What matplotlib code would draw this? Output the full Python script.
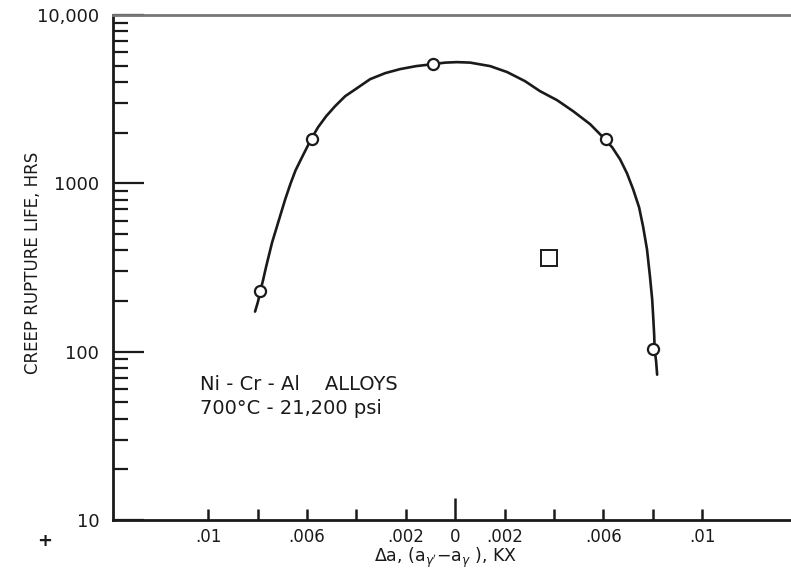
import matplotlib
matplotlib.use("Agg")
import matplotlib.pyplot as plt
from matplotlib.ticker import FixedLocator, LogLocator, NullFormatter, FixedFormatter

# Measured data points (circles)
delta_a = [-0.0079, -0.0058, -0.0009, 0.0061, 0.0080]
life_hrs = [228, 1830, 5100, 1830, 104]

# Square point
sq_delta_a = [0.0038]
sq_life_hrs = [358]

# Hand-drawn trend curve
curve_x = [-0.00810, -0.00798, -0.00789, -0.00777, -0.00765, -0.00753, -0.00741,
           -0.00725, -0.00709, -0.00688, -0.00666, -0.00646, -0.00625, -0.00604,
           -0.00583, -0.00555, -0.00522, -0.00486, -0.00445, -0.00397, -0.00344,
           -0.00283, -0.00223, -0.00158, -0.00089, -0.00040, 0.00008, 0.00061,
           0.00142, 0.00211, 0.00283, 0.00344, 0.00413, 0.00478, 0.00547,
           0.00599, 0.00636, 0.00668, 0.00696, 0.00721, 0.00745, 0.00761,
           0.00777, 0.00789, 0.00798, 0.00802, 0.00806, 0.00808, 0.00814, 0.00818]
curve_y = [173, 198.5, 227.6, 268.3, 320.6, 378, 445.6,
           532, 636, 803, 1000, 1195, 1380, 1590,
           1828, 2154, 2505, 2873, 3295, 3678, 4159,
           4516, 4771, 4971, 5109, 5215, 5250, 5215,
           4971, 4580, 4047, 3528, 3119, 2683, 2245,
           1878, 1637, 1389, 1147, 921, 720, 555,
           405, 279.5, 204, 161.6, 126.2, 102.8, 87.2, 73]

x_tick_vals = [-0.01, -0.006, -0.002, 0.0, 0.002, 0.006, 0.01]
x_tick_labels = [".01", ".006", ".002", "0", ".002", ".006", ".01"]
x_minor_vals = [-0.008, -0.004, 0.004, 0.008]
y_tick_vals = [10, 100, 1000, 10000]
y_tick_labels = ["10", "100", "1000", "10,000"]

plt.rcParams['font.family'] = ['DejaVu Sans']
ink = "#1a1a1a"

fig = plt.figure(figsize=(7.91, 5.69), dpi=100)
ax = fig.add_axes([0.1429, 0.0861, 0.8571, 0.8875])

ax.set_yscale("log")
ax.set_xlim(-0.01385, 0.0136)
ax.set_ylim(10, 10000)

ax.plot(curve_x, curve_y, color=ink, lw=1.9, solid_capstyle="round",
        solid_joinstyle="round", zorder=2)
ax.plot(delta_a, life_hrs, linestyle="none", marker="o", markersize=8,
        markerfacecolor="white", markeredgecolor=ink, markeredgewidth=1.6, zorder=3)
ax.plot(sq_delta_a, sq_life_hrs, linestyle="none", marker="s", markersize=11,
        markerfacecolor="white", markeredgecolor=ink, markeredgewidth=1.4, zorder=3)

# spines
ax.spines["right"].set_visible(False)
for s in ["left", "bottom"]:
    ax.spines[s].set_color(ink)
    ax.spines[s].set_linewidth(2.0)
ax.spines["top"].set_color("#777777")
ax.spines["top"].set_linewidth(2.0)

# x ticks
ax.xaxis.set_major_locator(FixedLocator(x_tick_vals))
ax.xaxis.set_major_formatter(FixedFormatter(x_tick_labels))
ax.xaxis.set_minor_locator(FixedLocator(x_minor_vals))
ax.tick_params(axis="x", which="both", direction="in", length=8, width=1.8,
               color=ink, labelsize=12, pad=6, labelcolor=ink)
ax.xaxis.get_major_ticks()[3].tick1line.set_markersize(16)

# y ticks
ax.yaxis.set_major_locator(FixedLocator(y_tick_vals))
ax.yaxis.set_major_formatter(FixedFormatter(y_tick_labels))
ax.yaxis.set_minor_locator(LogLocator(base=10, subs=range(2, 10)))
ax.yaxis.set_minor_formatter(NullFormatter())
ax.tick_params(axis="y", which="major", direction="in", length=22, width=1.6,
               color=ink, labelsize=13, pad=10, labelcolor=ink)
ax.tick_params(axis="y", which="minor", direction="in", length=11, width=1.6,
               color=ink)

ax.set_ylabel("CREEP RUPTURE LIFE, HRS", fontsize=12, color=ink)
ax.yaxis.label.set_va("center")
ax.yaxis.set_label_coords(-0.118, 0.51)
ax.set_xlabel(r"$\Delta$a, (a$_{\gamma'}$$-$a$_{\gamma}$ ), KX", fontsize=12.5,
              color=ink)
ax.xaxis.label.set_va("center")
ax.xaxis.set_label_coords(0.49, -0.075)

fig.text(45 / 791, 1 - 541 / 569, "+", fontsize=13, fontweight="bold",
         ha="center", va="center", color=ink)

ax.text(0.128, 0.269, "Ni - Cr - Al    ALLOYS", transform=ax.transAxes,
        fontsize=14, color=ink, va="center", ha="left")
ax.text(0.128, 0.220, "700°C - 21,200 psi", transform=ax.transAxes,
        fontsize=14, color=ink, va="center", ha="left")

fig.savefig("out.png", dpi=100)
